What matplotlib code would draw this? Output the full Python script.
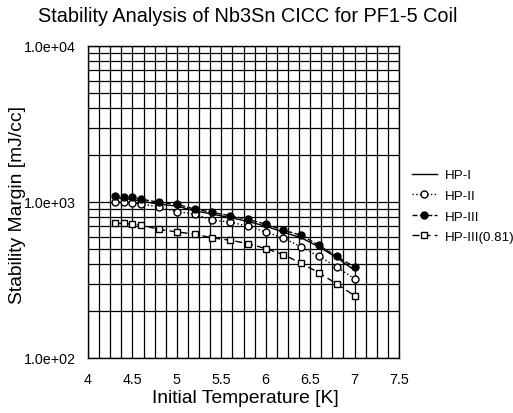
import numpy as np
import matplotlib
matplotlib.use('Agg')
import matplotlib.pyplot as plt
from matplotlib.ticker import MultipleLocator, LogLocator, FuncFormatter, NullFormatter

plt.rcParams['font.family'] = ['Liberation Sans', 'DejaVu Sans']

# Данные
temp = [4.3, 4.4, 4.5, 4.6, 4.8, 5.0, 5.2, 5.4, 5.6, 5.8, 6.0, 6.2, 6.4, 6.6, 6.8, 7.0]
hp1 = [1060, 1050, 1040, 1010, 970, 940, 880, 835, 795, 750, 700, 640, 590, 515, 440, 365]
hp2 = [1004, 1000, 985, 971, 929, 866, 837, 765, 743, 700, 643, 586, 515, 448, 383, 322]
hp3 = [1093, 1082, 1072, 1041, 996, 966, 901, 858, 816, 773, 721, 660, 612, 528, 448, 383]
hp3_081 = [729, 729, 720, 711, 667, 643, 622, 589, 569, 541, 503, 460, 404, 352, 298, 251]
x_ticks = [4, 4.5, 5, 5.5, 6, 6.5, 7, 7.5]

fig = plt.figure(figsize=(5.13, 4.14), dpi=100)
ax = fig.add_axes([88/513, 1-359/414, (399-88)/513, (359-47)/414])

ax.plot(temp, hp1, '-', color='black', lw=1.0, label='HP-I')
ax.plot(temp, hp2, ':', color='black', lw=1.0, marker='o', ms=5,
        mfc='white', mec='black', label='HP-II')
ax.plot(temp, hp3, '--', color='black', lw=1.0, marker='o', ms=5,
        mfc='black', mec='black', label='HP-III')
ax.plot(temp, hp3_081, linestyle=(0, (5, 3)), color='black', lw=1.0, marker='s', ms=5,
        mfc='white', mec='black', label='HP-III(0.81)')

ax.set_yscale('log')
ax.set_xlim(4, 7.5)
ax.set_ylim(100, 10000)
ax.set_xticks(x_ticks)
ax.set_xticklabels([f'{t:g}' for t in x_ticks])
ax.xaxis.set_minor_locator(MultipleLocator(0.125))
ax.yaxis.set_major_locator(LogLocator(base=10))
ax.yaxis.set_minor_locator(LogLocator(base=10, subs=np.arange(2, 10)))
ax.yaxis.set_major_formatter(FuncFormatter(lambda v, p: f'{v:.1e}'))
ax.yaxis.set_minor_formatter(NullFormatter())

ax.grid(True, which='both', color='black', lw=0.9)
ax.tick_params(which='both', length=0)
ax.tick_params(axis='x', pad=10, labelsize=10.3)
ax.tick_params(axis='y', pad=9, labelsize=10.3)
for s in ax.spines.values():
    s.set_linewidth(1.0)

fig.text(248/513, 1-16/414, 'Stability Analysis of Nb3Sn CICC for PF1-5 Coil',
         ha='center', va='center', fontsize=14.3)
fig.text(245/513, 1-399/414, 'Initial Temperature [K]', ha='center', va='center', fontsize=13.9)
fig.text(18/513, 1-205/414, 'Stability Margin [mJ/cc]', ha='center', va='center',
         rotation=90, fontsize=13.9)

fig.legend(loc='upper left', bbox_to_anchor=(400/513, 1-158/414), frameon=False,
           fontsize=9.6, handlelength=1.85, handletextpad=0.6, labelspacing=0.62)

fig.savefig('out.png', dpi=100)
